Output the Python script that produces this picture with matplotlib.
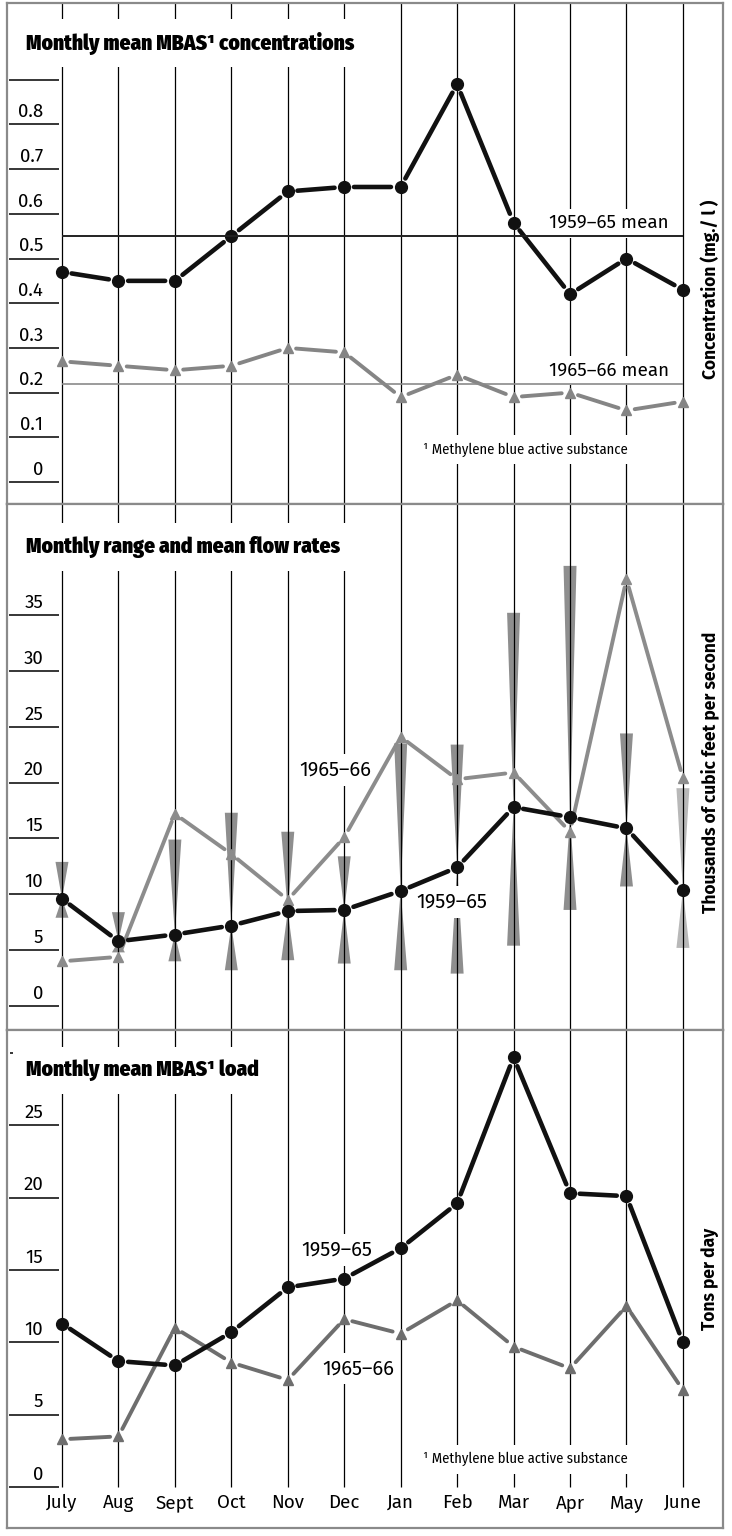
import matplotlib
matplotlib.use("Agg")
import matplotlib.pyplot as plt

months = ["July", "Aug", "Sept", "Oct", "Nov", "Dec",
          "Jan", "Feb", "Mar", "Apr", "May", "June"]

# MBAS concentration, mg/l
conc_5965 = [0.47, 0.45, 0.45, 0.55, 0.65, 0.66, 0.66, 0.89, 0.58, 0.42, 0.50, 0.43]
conc_6566 = [0.27, 0.26, 0.25, 0.26, 0.30, 0.29, 0.19, 0.24, 0.19, 0.20, 0.16, 0.18]
conc_mean_5965 = 0.55
conc_mean_6566 = 0.22
conc_ticks = [0, 0.1, 0.2, 0.3, 0.4, 0.5, 0.6, 0.7, 0.8]

# flow, thousands of cfs (1959-65 monthly range in max / min)
flow_5965 = [9.6, 5.8, 6.4, 7.2, 8.5, 8.6, 10.3, 12.4, 17.8, 16.9, 15.9, 10.4]
flow_6566 = [4.0, 4.4, 17.2, 13.6, 9.5, 15.1, 24.1, 20.3, 20.9, 15.6, 38.2, 20.4]
flow_max = [12.9, 8.4, 14.9, 17.3, 15.6, 13.4, 23.5, 23.4, 35.2, 39.4, 24.4, 19.5]
flow_min = [7.9, 4.8, 4.0, 3.2, 4.1, 3.8, 3.2, 2.9, 5.4, 8.6, 10.7, 5.2]
flow_ticks = [0, 5, 10, 15, 20, 25, 30, 35]

# MBAS load, tons per day
load_5965 = [11.3, 8.7, 8.4, 10.7, 13.8, 14.4, 16.5, 19.6, 29.7, 20.3, 20.1, 10.0]
load_6566 = [3.3, 3.5, 11.0, 8.6, 7.4, 11.6, 10.6, 12.9, 9.7, 8.2, 12.5, 6.7]
load_ticks = [0, 5, 10, 15, 20, 25]

NUM = ['Fira Sans', 'DejaVu Sans']
COND = ['Fira Sans Condensed', 'DejaVu Sans']
FRAME = '#8a8a8a'
WHITE = dict(boxstyle='square,pad=0.3', fc='white', ec='none')

W, H = 732, 1536
fig = plt.figure(figsize=(W / 100, H / 100), dpi=100)


def make_panel(top, bottom, ylim):
    ax = fig.add_axes([7 / W, 1 - bottom / H, 716 / W, (bottom - top) / H])
    ax.set_xlim(-0.974, 11.71)
    ax.set_ylim(*ylim)
    ax.set_xticks([])
    ax.set_yticks([])
    for s in ax.spines.values():
        s.set_color(FRAME)
        s.set_linewidth(1.6)
    return ax


def left_ticks(ax, ticks, labels):
    ax.hlines(ticks, -0.939, -0.053, color='k', lw=1.1, zorder=2)
    for t, lab in zip(ticks, labels):
        ax.annotate(lab, (-0.33, t), xytext=(0, 2.5), textcoords='offset points',
                    ha='right', va='bottom', fontsize=13.5, family=NUM)


def series(ax, ys, color, marker, ms, lw, shrink, z):
    # segments stop short of the markers, leaving a small gap
    for i in range(len(ys) - 1):
        ax.annotate('', xy=(i + 1, ys[i + 1]), xytext=(i, ys[i]),
                    arrowprops=dict(arrowstyle='-', color=color, lw=lw,
                                    shrinkA=shrink, shrinkB=shrink),
                    zorder=z)
    ax.plot(range(len(ys)), ys, ls='none', marker=marker, ms=ms,
            color=color, mec=color, zorder=z + 0.1)


def series_label(ax, x, y, s):
    # white box hides the month rule behind the text, but not the data lines
    ax.text(x, y, s, ha='center', va='center', fontsize=14.5, family=NUM,
            zorder=2.5, bbox=WHITE)


def title(ax, x, y, s):
    ax.text(x, y, s, ha='left', va='center', fontsize=15.3, family=COND,
            fontweight='black', zorder=6,
            bbox=dict(boxstyle='square,pad=0.6', fc='white', ec='none'))


def side_label(ax, y, s):
    ax.text(11.48, y, s, rotation=90, ha='center', va='center',
            fontsize=12.5, family=NUM, fontweight='bold')


def footnote(ax, y):
    ax.text(6.39, y, "¹ Methylene blue active substance", ha='left',
            va='center', fontsize=10.5, family=COND, zorder=6,
            bbox=dict(boxstyle='square,pad=0.5', fc='white', ec='none'))


x = list(range(len(months)))

# ---- concentrations
ax1 = make_panel(3, 504, (-0.0492, 1.0716))
ax1.vlines(x, -0.0492, 1.0716, color='k', lw=0.9, zorder=1)
left_ticks(ax1, conc_ticks + [0.9], [f"{t:g}" for t in conc_ticks] + [""])
ax1.hlines(conc_mean_5965, 0, 11, color='#222222', lw=1.4, zorder=7)
ax1.hlines(conc_mean_6566, 0, 11, color='#8a8a8a', lw=1.2, zorder=7)
for val, lab in [(conc_mean_5965, "1959–65 mean"), (conc_mean_6566, "1965–66 mean")]:
    ax1.annotate(lab, (10.75, val), xytext=(0, 3), textcoords='offset points',
                 ha='right', va='bottom', fontsize=13.5, family=NUM,
                 zorder=6, bbox=WHITE)
series(ax1, conc_6566, '#858585', '^', 7.5, 2.8, 6, 3)
series(ax1, conc_5965, '#111111', 'o', 8.5, 3.3, 7, 4)
title(ax1, -0.64, 0.982, "Monthly mean MBAS¹ concentrations")
footnote(ax1, 0.072)
side_label(ax1, 0.43, "Concentration (mg./ l )")

# ---- flow rates
ax2 = make_panel(504, 1030, (-2.149, 44.94))
ax2.vlines(x, -2.149, 44.94, color='k', lw=0.9, zorder=1.5)
left_ticks(ax2, flow_ticks, [str(t) for t in flow_ticks])
half = 0.115
for i in x:
    shade = '#b8b8b8' if i == len(x) - 1 else '#8e8e8e'
    ax2.fill([i - half, i + half, i], [flow_max[i], flow_max[i], flow_5965[i]],
             color=shade, lw=0, zorder=1)
    ax2.fill([i - half, i + half, i], [flow_min[i], flow_min[i], flow_5965[i]],
             color=shade, lw=0, zorder=1)
series(ax2, flow_6566, '#8c8c8c', '^', 7.5, 2.8, 6, 3)
series(ax2, flow_5965, '#111111', 'o', 8.5, 3.3, 7, 4)
title(ax2, -0.64, 41.1, "Monthly range and mean flow rates")
series_label(ax2, 4.85, 21.1, "1965–66")
series_label(ax2, 6.91, 9.34, "1959–65")
side_label(ax2, 20.9, "Thousands of cubic feet per second")

# ---- load
ax3 = make_panel(1030, 1528, (-2.83, 31.58))
ax3.vlines(x, 0, 31.58, color='k', lw=0.9, zorder=1)
left_ticks(ax3, load_ticks, [str(t) for t in load_ticks])
ax3.hlines(30, -0.92, -0.85, color='k', lw=1.1)
series(ax3, load_6566, '#6e6e6e', '^', 7.5, 2.8, 6, 3)
series(ax3, load_5965, '#111111', 'o', 8.5, 3.3, 7, 4)
title(ax3, -0.64, 28.8, "Monthly mean MBAS¹ load")
series_label(ax3, 4.87, 16.4, "1959–65")
series_label(ax3, 5.24, 8.19, "1965–66")
footnote(ax3, 1.93)
side_label(ax3, 14.4, "Tons per day")
for i, m in enumerate(months):
    ax3.text(i, -1.1, m, ha='center', va='center', fontsize=13.5, family=NUM)

fig.savefig("out.png", dpi=100)
